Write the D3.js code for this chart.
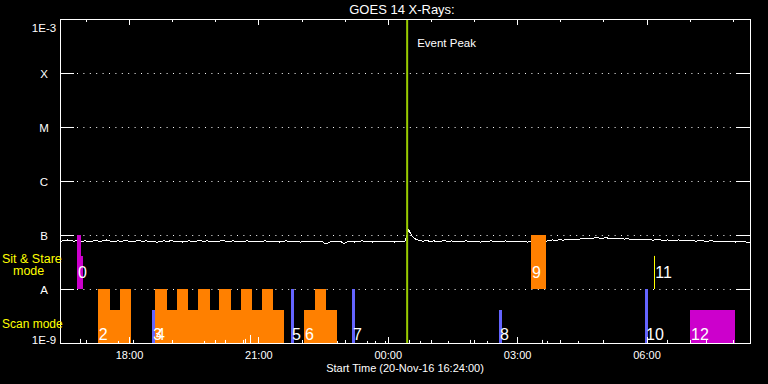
<!DOCTYPE html>
<html><head><meta charset="utf-8">
<script src="https://cdn.jsdelivr.net/npm/d3@7"></script>
<style>
html,body{margin:0;padding:0;background:#000;}
svg{display:block;background:#000;}
text{font-family:"Liberation Sans",Arial,sans-serif;fill:#fff;}
</style></head><body>
<svg id="chart" width="768" height="384"></svg>
<script>
// ---------------- data ----------------
const titleText = "GOES 14 X-Rays:";
const startTimeISO = "2016-11-20T16:24:00Z";
const xTitle = "Start Time (20-Nov-16 16:24:00)";
const spanMinutes = 960;
const sampleStepMin = 5;
// GOES long channel flux, units of 1e-8 W/m^2, one value every 5 minutes
const fluxLong = [
 7.6,7.9,8.1,7.8,7.7,8.0,7.6,7.8,7.5,7.7,
 7.9,7.6,7.8,8.1,7.7,7.5,7.8,7.6,7.9,7.7,
 7.4,7.7,7.9,7.6,7.8,7.5,7.7,7.3,7.6,7.8,
 7.6,7.9,7.5,7.7,7.4,7.6,7.8,7.5,7.7,7.9,
 7.6,7.8,7.5,7.7,7.6,7.9,7.7,7.5,7.8,7.6,
 7.7,7.5,7.8,7.6,7.4,7.7,7.5,7.8,7.6,7.5,
 7.7,7.4,7.6,7.8,7.5,7.7,7.6,7.4,7.7,7.5,
 7.6,7.4,7.7,7.5,6.8,7.4,7.6,7.5,7.7,6.9,
 7.5,7.7,7.4,7.6,7.8,7.5,7.7,7.4,7.6,7.5,
 7.7,7.5,7.6,7.4,7.6,7.5,7.7,12.5,9.4,8.3,
 7.9,7.7,7.9,7.6,7.8,7.5,7.7,7.9,7.6,7.8,
 7.5,7.7,7.6,7.8,7.5,7.7,7.6,7.4,7.7,7.6,
 7.8,7.5,7.7,7.6,7.8,7.5,7.7,7.6,7.5,7.7,
 7.4,7.5,7.3,7.5,7.4,7.6,7.9,8.1,7.9,8.2,
 8.0,8.3,8.1,8.4,8.3,8.5,8.6,8.8,8.7,8.9,
 8.8,8.7,8.9,8.6,8.7,8.5,8.6,8.4,8.5,8.3,
 8.4,8.2,8.3,8.1,8.2,8.0,8.2,8.1,7.9,8.1,
 8.0,7.8,8.1,7.9,8.0,7.8,7.9,7.7,7.9,7.8,
 7.6,7.8,7.7,7.5,7.7,7.6,7.5,7.7,7.4,7.6,
 7.5,7.4,7.3
];
// short channel excursions above the 1E-9 floor (minutes from start, units of 1e-9)
const spikeMin = [27.8,80.7,101.6,200.3,229.6,254.6,257.4,264.3,385.4,427.1,438.3,452.2,485.6,500.9,539.8,570.4,594.1,670.6,677.5,720.7,844.5,898.8];
const spikeVal = [1.19,1.09,1.14,1.09,1.14,1.14,1.19,1.41,1.09,1.09,1.09,1.09,1.14,1.09,1.09,1.14,1.09,1.14,1.09,1.09,1.14,1.14];

const levelValues = [1e-9,1e-8,1e-7,1e-6,1e-5,1e-4,1e-3];
const levelLabels = ["1E-9","A","B","C","M","X","1E-3"];

const eventPeakMin = 483;
const eventPeakLabel = "Event Peak";

// observation blocks (minutes from start, flux extent, type)
const barStart = [23.7,29.2,52.5,52.5,83.5,128.0,132.2,132.2,162.4,192.0,221.2,251.8,281.0,321.4,339.5,354.8,406.3,610.8,655.3,813.9,876.5];
const barEnd   = [29.2,32.0,98.8,69.6,98.8,132.2,311.7,148.4,178.5,208.7,237.9,267.1,296.3,325.6,385.4,370.1,410.4,615.0,675.8,818.1,939.1];
const barLow   = [1e-8,1e-8,1e-9,1e-9,1e-9,1e-9,1e-9,1e-9,1e-9,1e-9,1e-9,1e-9,1e-9,1e-9,1e-9,1e-9,1e-9,1e-9,1e-8,1e-9,1e-9];
const barHigh  = [1e-7,4.1e-8,4.1e-9,1e-8,1e-8,4.1e-9,4.1e-9,1e-8,1e-8,1e-8,1e-8,1e-8,1e-8,1e-8,4.1e-9,1e-8,1e-8,4.1e-9,1e-7,1e-8,4.1e-9];
const barType  = ["P","P","O","O","O","B","O","O","O","O","O","O","O","B","O","O","B","B","O","B","P"];
// single-line observation
const lineObsMin = [826.8];
const lineObsLow = [1e-8];
const lineObsHigh = [4.1e-8];

const obsLabels = ["0","2","3","4","5","6","7","8","9","10","11","12"];
const obsLabelMin = [23.7,52.5,128.0,132.2,321.4,339.5,406.3,610.8,655.3,813.9,826.8,876.5];
const obsLabelMode = ["stare","scan","scan","scan","scan","scan","scan","scan","stare","scan","stare","scan"];

const modeText = [["Sit & Stare","mode"],["Scan mode"]];

// ---------------- drawing ----------------
const svg = d3.select("#chart");
const L = 60, R = 750, T = 19, B = 343;
const t0 = new Date(startTimeISO);
const tm = m => new Date(t0.getTime() + m * 60000);
const tEnd = tm(spanMinutes);

const x = d3.scaleUtc().domain([t0, tEnd]).range([L, R]);
const y = d3.scaleLog().domain([1e-9, 1e-3]).range([B, T]);

const typeColor = {P:"#cc00cc", O:"#ff8000", B:"#6464ff", Y:"#ffff00"};

// dotted level lines
svg.append("g").selectAll("line")
  .data(levelValues.slice(1, -1))
  .join("line")
  .attr("x1", L + 17).attr("x2", R - 14)
  .attr("y1", d => Math.round(y(d)) + 0.5).attr("y2", d => Math.round(y(d)) + 0.5)
  .attr("stroke", "#fff").attr("stroke-width", 1)
  .attr("stroke-dasharray", "1 5.4");

// flux line
const fluxPts = fluxLong.map((v, i) => [tm(i * sampleStepMin), v * 1e-8]);
svg.append("path")
  .datum(fluxPts)
  .attr("fill", "none").attr("stroke", "#fff").attr("stroke-width", 1)
  .attr("shape-rendering", "crispEdges")
  .attr("d", d3.line().x(d => x(d[0])).y(d => y(d[1])));

// bars
svg.append("g").selectAll("rect")
  .data(barStart.map((s, i) => i))
  .join("rect")
  .attr("x", i => x(tm(barStart[i])))
  .attr("width", i => x(tm(barEnd[i])) - x(tm(barStart[i])))
  .attr("y", i => y(barHigh[i]))
  .attr("height", i => y(barLow[i]) - y(barHigh[i]))
  .attr("fill", i => typeColor[barType[i]])
  .attr("shape-rendering", "crispEdges");

// line observation
svg.append("g").selectAll("line")
  .data(lineObsMin.map((m, i) => i))
  .join("line")
  .attr("x1", i => Math.round(x(tm(lineObsMin[i]))) + 0.5)
  .attr("x2", i => Math.round(x(tm(lineObsMin[i]))) + 0.5)
  .attr("y1", i => y(lineObsHigh[i])).attr("y2", i => y(lineObsLow[i]))
  .attr("stroke", typeColor.Y).attr("stroke-width", 1);

// short channel spikes
svg.append("g").selectAll("line")
  .data(spikeMin.map((m, i) => i))
  .join("line")
  .attr("x1", i => Math.round(x(tm(spikeMin[i]))) + 0.5)
  .attr("x2", i => Math.round(x(tm(spikeMin[i]))) + 0.5)
  .attr("y1", y(1e-9)).attr("y2", i => y(spikeVal[i] * 1e-9))
  .attr("stroke", "#fff").attr("stroke-width", 1);

// event peak
const ex = x(tm(eventPeakMin));
svg.append("line")
  .attr("x1", ex).attr("x2", ex).attr("y1", T).attr("y2", B)
  .attr("stroke", "#99cc00").attr("stroke-width", 2);
svg.append("text")
  .attr("x", ex + 10).attr("y", 47)
  .attr("font-size", 11.5).text(eventPeakLabel);

// observation labels
const modeLevel = {scan: 1.15e-9, stare: 1.62e-8};
svg.append("g").selectAll("text")
  .data(obsLabels)
  .join("text")
  .attr("x", (d, i) => x(tm(obsLabelMin[i])) + 1)
  .attr("y", (d, i) => y(modeLevel[obsLabelMode[i]]))
  .attr("font-size", 16)
  .text(d => d);

// axes
const hours = d3.utcHour.range(t0, tEnd);
const majors = d3.utcHour.every(3).range(t0, tEnd);
function styleAxis(g) {
  g.attr("color", "#fff");
  g.select(".domain").remove();
  g.selectAll("line").attr("shape-rendering", "crispEdges");
}
svg.append("g").attr("transform", `translate(0,${B})`)
  .call(d3.axisBottom(x).tickValues(hours).tickSize(-3).tickFormat(""))
  .call(styleAxis);
svg.append("g").attr("transform", `translate(0,${B})`)
  .call(d3.axisBottom(x).tickValues(majors).tickSize(-6).tickPadding(8)
    .tickFormat(d3.utcFormat("%H:%M")))
  .call(styleAxis)
  .call(g => g.selectAll("text").attr("font-size", 11).attr("font-family", null).attr("fill", "#fff"));
svg.append("g").attr("transform", `translate(0,${T})`)
  .call(d3.axisTop(x).tickValues(hours).tickSize(-3).tickFormat(""))
  .call(styleAxis);
svg.append("g").attr("transform", `translate(0,${T})`)
  .call(d3.axisTop(x).tickValues(majors).tickSize(-6).tickFormat(""))
  .call(styleAxis);

svg.append("g").attr("transform", `translate(${L},0)`)
  .call(d3.axisLeft(y).tickValues(levelValues).tickSize(-14)
    .tickFormat((d, i) => levelLabels[i]))
  .call(styleAxis)
  .call(g => g.selectAll("text")
    .attr("font-size", 11.5).attr("font-family", null).attr("fill", "#fff")
    .attr("text-anchor", "middle").attr("x", -16)
    .attr("dy", (d, i) => i === levelValues.length - 1 ? "1.05em" : (i === 0 ? "0.05em" : "0.35em")));
svg.append("g").attr("transform", `translate(${R},0)`)
  .call(d3.axisRight(y).tickValues(levelValues).tickSize(-14).tickFormat(""))
  .call(styleAxis);

// frame
svg.append("rect")
  .attr("x", L + 0.5).attr("y", T + 0.5)
  .attr("width", R - L).attr("height", B - T)
  .attr("fill", "none").attr("stroke", "#fff").attr("stroke-width", 1);

// titles
svg.append("text").attr("x", 402).attr("y", 14).attr("text-anchor", "middle")
  .attr("font-size", 13).text(titleText);
svg.append("text").attr("x", (L + R) / 2).attr("y", 372).attr("text-anchor", "middle")
  .attr("font-size", 11).text(xTitle);

// mode labels
svg.append("text").attr("x", 2).attr("y", 263).attr("font-size", 12.5)
  .style("fill", "#ffff00").text(modeText[0][0]);
svg.append("text").attr("x", 13).attr("y", 275).attr("font-size", 12.5)
  .style("fill", "#ffff00").text(modeText[0][1]);
svg.append("text").attr("x", 2).attr("y", 328).attr("font-size", 12)
  .style("fill", "#ffff00").text(modeText[1][0]);
</script>
</body></html>
